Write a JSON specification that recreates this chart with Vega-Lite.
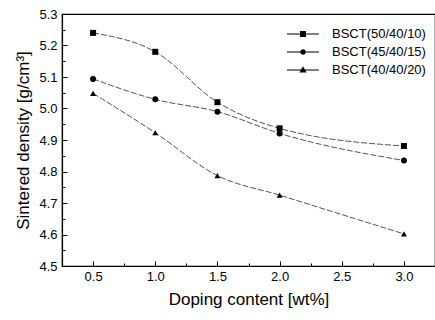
{
  "$schema": "https://vega.github.io/schema/vega-lite/v6.json",
  "width": 373,
  "height": 252,
  "autosize": "none",
  "padding": {"left": 62, "top": 14, "right": 0, "bottom": 54},
  "background": "white",
  "config": {
    "font": "Liberation Sans",
    "view": {"stroke": "black", "strokeWidth": 1.2},
    "axis": {
      "domainColor": "black",
      "domainWidth": 1.2,
      "tickColor": "black",
      "tickWidth": 1,
      "labelColor": "black",
      "titleColor": "black",
      "labelFont": "Liberation Sans",
      "titleFont": "Liberation Sans",
      "labelFontSize": 13,
      "titleFontSize": 17,
      "titleFontWeight": "normal",
      "grid": false,
      "labelOverlap": false
    }
  },
  "datasets": {
    "density": [
      {"x": 0.5, "y": 5.24, "series": "BSCT(50/40/10)"},
      {"x": 1.0, "y": 5.18, "series": "BSCT(50/40/10)"},
      {"x": 1.5, "y": 5.02, "series": "BSCT(50/40/10)"},
      {"x": 2.0, "y": 4.937, "series": "BSCT(50/40/10)"},
      {"x": 3.0, "y": 4.881, "series": "BSCT(50/40/10)"},
      {"x": 0.5, "y": 5.094, "series": "BSCT(45/40/15)"},
      {"x": 1.0, "y": 5.029, "series": "BSCT(45/40/15)"},
      {"x": 1.5, "y": 4.99, "series": "BSCT(45/40/15)"},
      {"x": 2.0, "y": 4.921, "series": "BSCT(45/40/15)"},
      {"x": 3.0, "y": 4.835, "series": "BSCT(45/40/15)"},
      {"x": 0.5, "y": 5.048, "series": "BSCT(40/40/20)"},
      {"x": 1.0, "y": 4.923, "series": "BSCT(40/40/20)"},
      {"x": 1.5, "y": 4.787, "series": "BSCT(40/40/20)"},
      {"x": 2.0, "y": 4.725, "series": "BSCT(40/40/20)"},
      {"x": 3.0, "y": 4.602, "series": "BSCT(40/40/20)"}
    ]
  },
  "data": {"name": "density"},
  "encoding": {
    "x": {
      "field": "x",
      "type": "quantitative",
      "scale": {"domain": [0.25, 3.25], "nice": false, "zero": false},
      "axis": {
        "title": "Doping content [wt%]",
        "values": [0.25, 0.5, 0.75, 1.0, 1.25, 1.5, 1.75, 2.0, 2.25, 2.5, 2.75, 3.0, 3.25],
        "labelExpr": "abs(datum.value*2 - round(datum.value*2)) < 0.01 ? format(datum.value, '.1f') : ''",
        "tickSize": {"condition": {"test": "abs(datum.value*2 - round(datum.value*2)) < 0.01", "value": -5}, "value": -3},
        "labelPadding": 9,
        "titlePadding": 6
      }
    },
    "y": {
      "field": "y",
      "type": "quantitative",
      "scale": {"domain": [4.5, 5.3], "nice": false, "zero": false},
      "axis": {
        "title": "Sintered density [g/cm³]",
        "values": [4.5, 4.55, 4.6, 4.65, 4.7, 4.75, 4.8, 4.85, 4.9, 4.95, 5.0, 5.05, 5.1, 5.15, 5.2, 5.25, 5.3],
        "labelExpr": "abs(datum.value*10 - round(datum.value*10)) < 0.01 ? format(datum.value, '.1f') : ''",
        "tickSize": {"condition": {"test": "abs(datum.value*10 - round(datum.value*10)) < 0.01", "value": -5}, "value": -3},
        "labelPadding": 10,
        "titlePadding": 6
      }
    }
  },
  "layer": [
    {
      "mark": {"type": "line", "interpolate": "monotone", "stroke": "#555555", "strokeWidth": 1, "strokeDash": [6, 2]},
      "encoding": {"detail": {"field": "series"}}
    },
    {
      "mark": {"type": "point", "filled": true, "color": "black", "opacity": 1, "size": 36},
      "encoding": {
        "shape": {
          "field": "series",
          "type": "nominal",
          "scale": {"domain": ["BSCT(50/40/10)", "BSCT(45/40/15)", "BSCT(40/40/20)"], "range": ["square", "circle", "triangle-up"]},
          "legend": null
        }
      }
    },
    {
      "data": {"values": [{"label": "BSCT(50/40/10)"}, {"label": "BSCT(45/40/15)"}, {"label": "BSCT(40/40/20)"}]},
      "transform": [{"filter": "false"}],
      "mark": {"type": "point", "filled": true, "fill": "black", "opacity": 1},
      "encoding": {
        "x": {"value": 0},
        "y": {"value": 0},
        "shape": {
          "field": "label",
          "type": "nominal",
          "scale": {
            "domain": ["BSCT(50/40/10)", "BSCT(45/40/15)", "BSCT(40/40/20)"],
            "range": [
              "M-1.6,-0.05H1.6V0.05H-1.6ZM-0.3,-0.3H0.3V0.3H-0.3Z",
              "M-1.6,-0.05H1.6V0.05H-1.6ZM-0.28,0A0.28,0.28,0,1,1,0.28,0A0.28,0.28,0,1,1,-0.28,0Z",
              "M-1.6,-0.05H1.6V0.05H-1.6ZM0,-0.38L0.36,0.26H-0.36Z"
            ]
          },
          "legend": {
            "title": null,
            "orient": "none",
            "legendX": 230,
            "legendY": 9,
            "symbolSize": 400,
            "symbolFillColor": "black",
            "symbolOpacity": 1,
            "labelFont": "Liberation Sans",
            "labelFontSize": 13,
            "labelColor": "black",
            "labelOffset": 18,
            "rowPadding": 0
          }
        }
      }
    }
  ],
  "resolve": {"scale": {"shape": "independent"}, "legend": {"shape": "independent"}}
}
